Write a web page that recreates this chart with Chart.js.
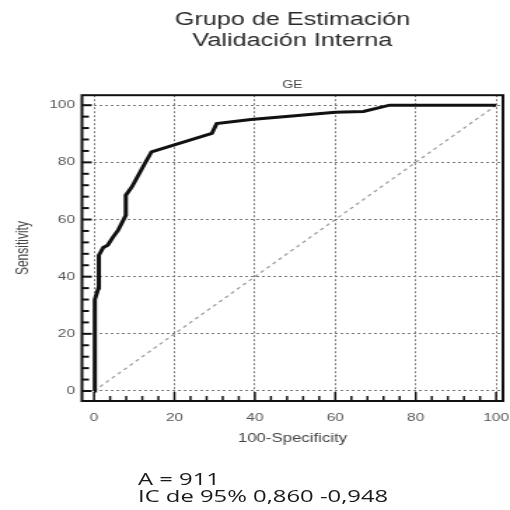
<!DOCTYPE html>
<html>
<head>
<meta charset="utf-8">
<script src="https://cdn.jsdelivr.net/npm/chart.js@4.4.1/dist/chart.umd.min.js"></script>
<style>
  html, body { margin: 0; padding: 0; background: #fff; }
  /* the original picture is stretched sideways, so the whole chart is too */
  #wrap { position: absolute; left: 0; top: 0; width: 364px; height: 510px;
          transform: scaleX(1.401); transform-origin: 0 0; }
  #note { position: absolute; left: 98.5px; top: 470px; font-family: "Open Sans", sans-serif;
          font-size: 17px; line-height: 17px; color: #1a1a1a; white-space: nowrap; }
</style>
</head>
<body>
<div id="wrap">
  <canvas id="roc" width="364" height="510"></canvas>
  <div id="note">A = 911<br>IC de 95% 0,860 -0,948</div>
</div>
<script>
// ROC curve (100-Specificity, Sensitivity)
var fpr = [0, 0.2, 1.1, 1.2, 2.3, 3.4, 4.8, 6, 7.3, 7.9, 7.9, 9.4, 12.7, 14.3, 29.3, 30.5, 39, 50, 60, 67, 73.5, 100];
var tpr = [0, 32, 36, 47.5, 50.2, 51, 54, 56.3, 59.8, 61.5, 68.5, 71.4, 79.8, 83.7, 90.1, 93.6, 95, 96.3, 97.5, 97.8, 100, 100];
var diagX = [0, 100];
var diagY = [0, 100];
var tickValues = [0, 20, 40, 60, 80, 100];

function pairs(xs, ys) {
    var out = [];
    for (var i = 0; i < xs.length; i++) {
        out.push({x: xs[i], y: ys[i]});
    }
    return out;
}

function setTicks(scale) {
    scale.ticks = tickValues.map(function (v) { return {value: v}; });
}

// black frame with small inward ticks on the left and bottom
var framePlugin = {
    id: 'frame',
    afterDraw: function (chart) {
        var ctx = chart.ctx, a = chart.chartArea;
        var xs = chart.scales.x, ys = chart.scales.y;
        ctx.save();
        ctx.strokeStyle = '#111';
        ctx.lineWidth = 2;
        ctx.strokeRect(a.left, a.top, a.right - a.left, a.bottom - a.top);
        for (var v = 0; v <= 100; v += 4) {
            var major = v % 20 === 0;
            var py = ys.getPixelForValue(v);
            ctx.lineWidth = 2;
            ctx.beginPath();
            ctx.moveTo(a.left, py);
            ctx.lineTo(a.left + (major ? 7 : 5), py);
            ctx.stroke();
            var px = xs.getPixelForValue(v);
            ctx.lineWidth = 1.5;
            ctx.beginPath();
            ctx.moveTo(px, a.bottom);
            ctx.lineTo(px, a.bottom - (major ? 9 : 5));
            ctx.stroke();
        }
        ctx.restore();
    }
};

var ctx = document.getElementById('roc').getContext('2d');
var rocChart = new Chart(ctx, {
    type: 'scatter',
    data: {
        datasets: [{
            data: pairs(fpr, tpr),
            showLine: true,
            borderColor: '#111',
            borderWidth: 3,
            pointRadius: 0,
            tension: 0
        }, {
            data: pairs(diagX, diagY),
            showLine: true,
            borderColor: '#999',
            borderWidth: 1.2,
            borderDash: [3, 3],
            pointRadius: 0
        }]
    },
    options: {
        responsive: false,
        animation: false,
        layout: { padding: {left: 5, right: 5, top: 0, bottom: 60} },
        plugins: {
            legend: { display: false },
            tooltip: { enabled: false },
            title: {
                display: true,
                fullSize: false,
                text: ['Grupo de Estimación', 'Validación Interna'],
                color: '#2a2a2a',
                font: { family: 'Liberation Sans', size: 18, weight: 'normal' },
                padding: {top: 9, bottom: 15}
            },
            subtitle: {
                display: true,
                fullSize: false,
                text: 'GE',
                color: '#444',
                font: { family: 'Liberation Sans', size: 10 },
                padding: {top: 12, bottom: 4}
            }
        },
        scales: {
            x: {
                type: 'linear',
                min: -3,
                max: 101.7,
                afterBuildTicks: setTicks,
                afterFit: function (scale) {
                    scale.height = 49;
                    scale.paddingLeft = 0;
                    scale.paddingRight = 0;
                },
                grid: { color: '#7a7a7a', lineWidth: 1, drawTicks: false },
                border: { display: false, dash: [2, 2] },
                ticks: { color: '#555', padding: 10, font: { family: 'Liberation Sans', size: 11 } },
                title: { display: true, text: '100-Specificity', color: '#444',
                         font: { family: 'Liberation Sans', size: 12 } }
            },
            y: {
                type: 'linear',
                min: -3.5,
                max: 103.5,
                afterBuildTicks: setTicks,
                afterFit: function (scale) {
                    scale.width = 53.5;
                    scale.paddingTop = 0;
                    scale.paddingBottom = 0;
                },
                grid: { color: '#7a7a7a', lineWidth: 1, drawTicks: false },
                border: { display: false, dash: [2, 2] },
                ticks: { color: '#555', padding: 5, font: { family: 'Liberation Sans', size: 11 } },
                title: { display: true, text: 'Sensitivity', color: '#444',
                         font: { family: 'Liberation Sans', size: 12 } }
            }
        }
    },
    plugins: [framePlugin]
});
</script>
</body>
</html>
